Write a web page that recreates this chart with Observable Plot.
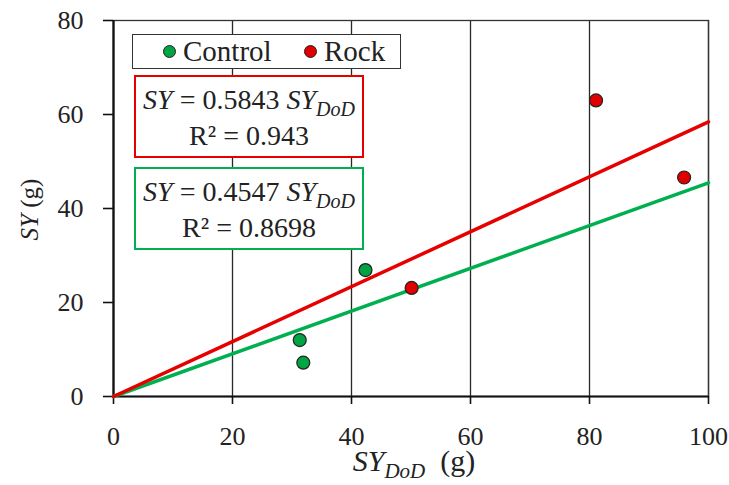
<!DOCTYPE html>
<html><head><meta charset="utf-8">
<script src="https://cdn.jsdelivr.net/npm/d3@7"></script>
<script src="https://cdn.jsdelivr.net/npm/@observablehq/plot@0.6"></script>
<style>
body{margin:0;background:#fff;}
#wrap{position:relative;width:729px;height:485px;color:#222;font-family:"Liberation Serif",serif;}
#wrap svg{position:absolute;left:0;top:0;}
.abs{position:absolute;white-space:nowrap;}
.box{position:absolute;background:#fff;box-sizing:border-box;}
.dot{position:absolute;width:13px;height:13px;border-radius:50%;box-sizing:border-box;border:1.2px solid #222;}
.eq{position:absolute;text-align:center;white-space:nowrap;}
i{font-style:italic;}
.sub{font-style:italic;}
</style></head><body><div id="wrap"></div>
<script>
// ---- data ----
const seriesNames = ["Control", "Rock"];
const controlX = [31.3, 31.9, 42.35];
const controlY = [12.0, 7.2, 26.9];
const rockX = [50.1, 81.1, 95.9];
const rockY = [23.1, 63.0, 46.6];
const slopes = [0.4547, 0.5843];      // Control, Rock (trend through origin)
const r2Labels = ["0.8698", "0.943"];
const lineX = [0, 100];
const xTicks = [0, 20, 40, 60, 80, 100];
const yTicks = [0, 20, 40, 60, 80];

const dotFill = {Control: "#00a443", Rock: "#e00000"};
const lineColor = {Control: "#00b050", Rock: "#e60000"};

const FF = `"Liberation Serif", serif`;

const points = [
  ...controlX.map((x, i) => ({x, y: controlY[i], s: "Control"})),
  ...rockX.map((x, i) => ({x, y: rockY[i], s: "Rock"}))
];
const trend = seriesNames.flatMap((s, j) => lineX.map(x => ({x, y: slopes[j] * x, s})));

const tickFS = 26;
const chart = Plot.plot({
  width: 729, height: 485,
  marginTop: 20, marginLeft: 113, marginRight: 21, marginBottom: 89,
  style: {fontFamily: FF, fontSize: tickFS + "px", color: "#222", background: "transparent"},
  x: {domain: [0, 100], label: null},
  y: {domain: [0, 80], label: null},
  marks: [
    Plot.gridX(xTicks, {stroke: "#111", strokeOpacity: 0.9, strokeWidth: 1.3}),
    Plot.frame({stroke: "#333", strokeWidth: 1.3}),
    Plot.axisY({ticks: yTicks, tickSize: 10, tickPadding: 20, stroke: "#111", strokeWidth: 1.6, fill: "#222", fontSize: tickFS}),
    Plot.axisX({ticks: xTicks, tickSize: 8, tickPadding: 22, stroke: "#111", strokeWidth: 1.6, fill: "#222", fontSize: tickFS}),
    Plot.ruleX([0], {stroke: "#111", strokeWidth: 2.2}),
    Plot.ruleY([0], {stroke: "#111", strokeWidth: 2.2}),
    Plot.line(trend.filter(d => d.s === "Control"), {x: "x", y: "y", stroke: lineColor.Control, strokeWidth: 3.5}),
    Plot.line(trend.filter(d => d.s === "Rock"), {x: "x", y: "y", stroke: lineColor.Rock, strokeWidth: 3.5}),
    Plot.dot(points, {x: "x", y: "y", r: 6.5, fill: d => dotFill[d.s], stroke: "#222", strokeWidth: 1.2})
  ]
});

const wrap = document.getElementById("wrap");
wrap.appendChild(chart);

function el(cls, css, html) {
  const d = document.createElement("div");
  d.className = cls;
  d.style.cssText = css;
  if (html != null) d.innerHTML = html;
  wrap.appendChild(d);
  return d;
}
const sub = (t, size) => `<span class="sub" style="font-size:${size}px;vertical-align:-7px;line-height:1">${t}</span>`;

// legend
el("box", "left:132px;top:34px;width:269px;height:35px;border:1.5px solid #333;");
el("dot", `left:162.5px;top:44.5px;background:${dotFill.Control};`);
el("abs", `left:183px;top:34px;height:35px;line-height:35px;font-size:29px;`, seriesNames[0]);
el("dot", `left:303.5px;top:44.5px;background:${dotFill.Rock};`);
el("abs", `left:324px;top:34px;height:35px;line-height:35px;font-size:29px;`, seriesNames[1]);

// equation boxes
const boxes = [
  {j: 1, top: 75, color: lineColor.Rock},
  {j: 0, top: 167, color: lineColor.Control}
];
boxes.forEach(b => {
  el("box", `left:134px;top:${b.top}px;width:230px;height:83px;border:2px solid ${b.color};`);
  el("eq", `left:134px;width:230px;top:${b.top + 8}px;height:34px;line-height:34px;font-size:28px;`,
     `<i>SY</i> = ${slopes[b.j].toFixed(4)} <i>SY</i>${sub("DoD", 20)}`);
  el("eq", `left:134px;width:230px;top:${b.top + 44}px;height:34px;line-height:34px;font-size:28px;`,
     `R² = ${r2Labels[b.j]}`);
});

// axis titles
el("abs", `left:314px;width:200px;text-align:center;top:449px;height:24px;line-height:24px;font-size:30px;`,
   `<i>SY</i>${sub("DoD", 21)}&nbsp; (g)`);
el("abs", `left:-71px;width:200px;text-align:center;top:196.5px;height:25px;font-size:25px;line-height:25px;transform:rotate(-90deg);`,
   `<i>SY</i> (g)`);
</script>
</body></html>
